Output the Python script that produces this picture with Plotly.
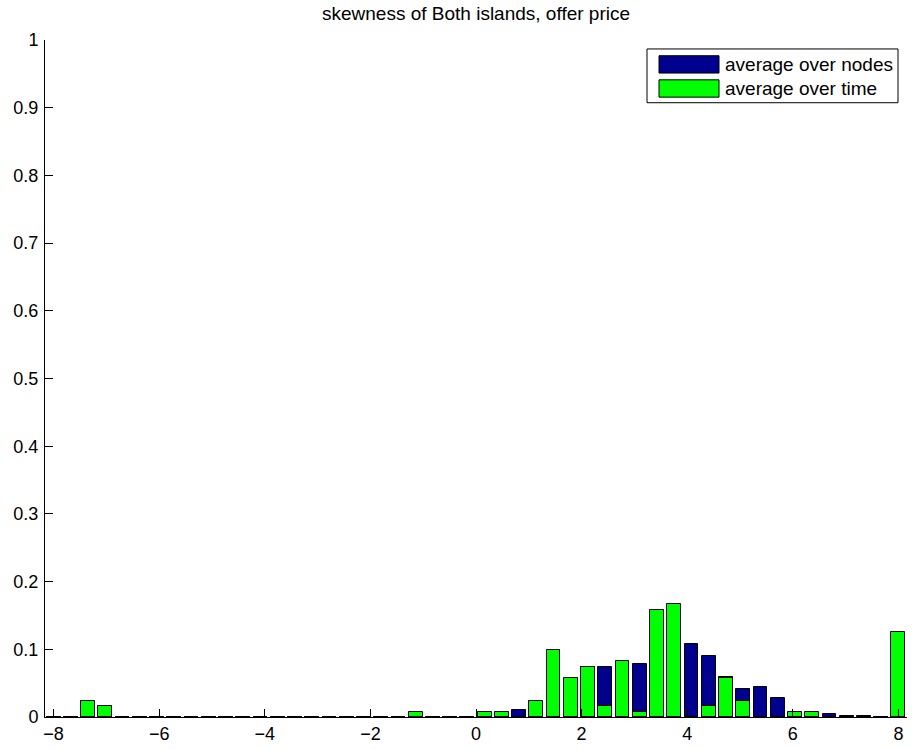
import numpy as np
import plotly.graph_objects as go

# 50 histogram bin centres spanning -8 .. 8
bin_centers = np.linspace(-8, 8, 50)

avg_over_nodes = [
    0, 0, 0.020, 0.012, 0, 0, 0, 0, 0, 0,
    0, 0, 0, 0, 0, 0, 0, 0, 0, 0,
    0, 0.005, 0, 0, 0, 0.005, 0.006, 0.011, 0.020, 0.060,
    0.050, 0.074, 0.074, 0.070, 0.078, 0.120, 0.140, 0.108, 0.090, 0.059,
    0.042, 0.044, 0.028, 0.006, 0.006, 0.004, 0.002, 0.001, 0.0005, 0.100,
]
avg_over_time = [
    0, 0, 0.024, 0.016, 0, 0, 0, 0, 0, 0,
    0, 0, 0, 0, 0, 0, 0, 0, 0, 0,
    0, 0.0077, 0, 0, 0, 0.0075, 0.0075, 0, 0.024, 0.099,
    0.058, 0.074, 0.016, 0.083, 0.0075, 0.158, 0.167, 0, 0.016, 0.058,
    0.024, 0, 0, 0.0077, 0.0077, 0, 0, 0, 0, 0.125,
]
series_names = ["average over nodes", "average over time"]
series_colors = ["#00008F", "#00FF00"]
title_text = "skewness of Both islands, offer price"
x_ticks = [-8, -6, -4, -2, 0, 2, 4, 6, 8]
y_ticks = [0, 0.1, 0.2, 0.3, 0.4, 0.5, 0.6, 0.7, 0.8, 0.9, 1]
y_tick_labels = ["0", "0.1", "0.2", "0.3", "0.4", "0.5", "0.6", "0.7", "0.8", "0.9", "1"]

W, H = 912, 749
L, R, T, B = 45, 5, 40, 29
FONT = "Liberation Sans, Arial, Helvetica, sans-serif"
bw = 0.8 * (bin_centers[1] - bin_centers[0])

fig = go.Figure()
for name, vals, col in zip(series_names, [avg_over_nodes, avg_over_time], series_colors):
    fig.add_trace(go.Bar(
        x=bin_centers, y=vals, name=name, width=bw,
        marker=dict(color=col, line=dict(color="#000000", width=1)),
        showlegend=False,
    ))

pw, ph = W - L - R, H - T - B
def px(x):
    return (x - L) / pw
def py(y):
    return (H - B - y) / ph

shapes = [dict(type="rect", xref="paper", yref="paper",
               x0=px(647), x1=px(898), y0=py(103), y1=py(49),
               line=dict(color="black", width=1), fillcolor="white", layer="above")]
annotations = []
for k, (name, col) in enumerate(zip(series_names, series_colors)):
    yc = 64.5 + k * 24.2
    shapes.append(dict(type="rect", xref="paper", yref="paper",
                       x0=px(659), x1=px(719), y0=py(yc + 8.7), y1=py(yc - 8.7),
                       line=dict(color="#000000", width=1), fillcolor=col, layer="above"))
    annotations.append(dict(xref="paper", yref="paper", x=px(723), y=py(yc),
                            xanchor="left", yanchor="middle", text=name, showarrow=False,
                            font=dict(family=FONT, size=19, color="black")))

fig.update_layout(
    width=W, height=H,
    margin=dict(l=L, r=R, t=T, b=B),
    barmode="overlay",
    paper_bgcolor="white", plot_bgcolor="white",
    font=dict(family=FONT, size=18, color="black"),
    title=dict(text=title_text, xref="paper", x=0.5, xanchor="center",
               yref="container", y=1 - 13 / H, yanchor="middle",
               font=dict(family=FONT, size=19, color="black")),
    shapes=shapes, annotations=annotations,
    bargap=0,
)
fig.update_xaxes(range=[-8.1633, 8.1633], tickvals=x_ticks, ticks="inside", ticklen=8,
                 tickcolor="black", showline=True, linecolor="black", linewidth=1,
                 showgrid=False, zeroline=False, tickfont=dict(size=18), ticklabelstandoff=0)
fig.update_yaxes(range=[0, 1], tickvals=y_ticks, ticktext=y_tick_labels, ticks="inside", ticklen=8,
                 tickcolor="black", showline=True, linecolor="black", linewidth=1,
                 showgrid=False, zeroline=False, tickfont=dict(size=18), ticklabelstandoff=2)

fig.write_html("out.html")
